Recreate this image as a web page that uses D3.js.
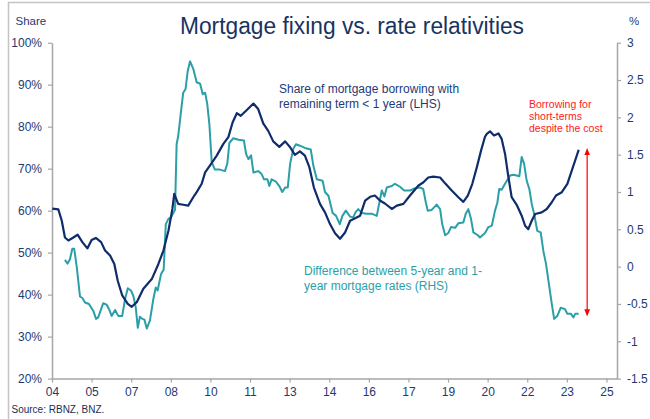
<!DOCTYPE html>
<html>
<head>
<meta charset="utf-8">
<script src="https://cdn.jsdelivr.net/npm/d3@7"></script>
<style>
  body { margin: 0; background: #fff; }
  svg { display: block; font-family: "Liberation Sans", Arial, sans-serif; }
</style>
</head>
<body>
<svg id="chart" width="650" height="419"></svg>
<script>
// share of mortgage borrowing with remaining term < 1 year (LHS, %)
const shareYears = [2004.01,2004.24,2004.37,2004.49,2004.62,2004.81,2004.97,2005.15,2005.34,2005.50,2005.66,2005.86,
  2006.01,2006.20,2006.36,2006.49,2006.66,2006.87,2007.02,2007.21,2007.46,2007.78,2008.03,2008.22,2008.41,2008.56,
  2008.63,2008.78,2008.97,2009.16,2009.39,2009.48,2009.67,2009.80,2009.98,2010.24,2010.49,2010.68,2010.84,2011.00,
  2011.15,2011.35,2011.63,2011.81,2012.00,2012.19,2012.38,2012.61,2012.83,2013.02,2013.20,2013.39,2013.58,2013.75,
  2013.92,2014.15,2014.34,2014.53,2014.72,2014.91,2015.10,2015.29,2015.48,2015.67,2015.86,2016.05,2016.23,2016.42,
  2016.61,2016.87,2017.06,2017.31,2017.56,2017.88,2018.06,2018.25,2018.44,2018.70,2018.89,2019.14,2019.39,2019.58,
  2019.75,2019.92,2020.09,2020.25,2020.40,2020.47,2020.59,2020.74,2020.91,2021.03,2021.16,2021.28,2021.41,2021.60,
  2021.79,2021.92,2022.04,2022.17,2022.30,2022.55,2022.74,2022.93,2023.09,2023.31,2023.52,2023.75,2023.95];
const shareValues = [60.5,60.3,57.6,53.6,52.9,53.6,54.3,52.5,51.0,53.0,53.5,52.5,
  50.5,49.3,47.3,43.3,39.8,37.8,37.1,38.2,41.4,43.7,47.3,50.5,55.2,60.4,
  64.0,61.6,61.4,61.2,63.6,64.4,66.4,69.1,70.7,73.1,75.9,77.5,81.0,83.2,
  82.6,83.8,85.5,84.2,80.8,79.0,76.5,75.2,76.5,75.1,73.3,74.1,73.1,70.3,
  65.5,61.6,59.6,56.8,54.6,53.3,54.8,57.6,58.2,58.8,62.4,63.3,63.6,62.4,
  61.7,60.4,61.2,61.6,63.6,66.0,66.7,67.9,68.1,67.9,66.5,64.8,63.2,62.1,
  63.6,66.4,70.3,74.3,77.6,78.3,78.9,77.9,78.4,77.1,73.5,68.3,63.2,61.4,
  58.8,56.4,55.6,57.6,59.2,59.6,60.4,62.0,63.6,64.4,66.4,70.7,74.5];

// difference between 5-year and 1-year mortgage rates (RHS, %)
const spreadYears = [2004.49,2004.59,2004.68,2004.77,2004.84,2004.94,2005.06,2005.15,2005.25,2005.40,2005.56,2005.67,
  2005.75,2005.86,2005.94,2006.07,2006.16,2006.26,2006.39,2006.51,2006.66,2006.77,2006.87,2006.99,2007.08,2007.17,
  2007.25,2007.33,2007.42,2007.50,2007.59,2007.71,2007.84,2007.93,2008.00,2008.13,2008.23,2008.31,2008.41,2008.51,
  2008.66,2008.72,2008.78,2008.89,2008.97,2009.06,2009.14,2009.23,2009.35,2009.48,2009.61,2009.71,2009.80,2009.88,
  2009.96,2010.05,2010.17,2010.36,2010.55,2010.64,2010.72,2010.87,2011.06,2011.27,2011.35,2011.44,2011.54,2011.63,
  2011.81,2011.94,2012.03,2012.16,2012.23,2012.32,2012.48,2012.61,2012.72,2012.83,2012.93,2013.02,2013.14,2013.24,
  2013.39,2013.58,2013.80,2013.90,2014.03,2014.25,2014.34,2014.47,2014.63,2014.76,2014.90,2015.00,2015.13,2015.29,
  2015.41,2015.50,2015.60,2015.73,2015.92,2016.11,2016.30,2016.39,2016.49,2016.59,2016.68,2016.87,2016.99,2017.18,
  2017.34,2017.56,2017.75,2017.94,2018.06,2018.16,2018.23,2018.38,2018.57,2018.70,2018.78,2018.89,2019.01,2019.11,
  2019.27,2019.39,2019.58,2019.67,2019.77,2019.87,2019.96,2020.13,2020.21,2020.40,2020.53,2020.66,2020.78,2020.87,
  2020.94,2021.03,2021.16,2021.35,2021.47,2021.60,2021.70,2021.79,2021.88,2021.98,2022.08,2022.17,2022.26,2022.38,
  2022.51,2022.61,2022.71,2022.80,2022.93,2023.02,2023.14,2023.27,2023.43,2023.52,2023.65,2023.75,2023.82,2023.95];
const spreadValues = [0.09,0.04,0.10,0.24,0.24,-0.01,-0.40,-0.42,-0.48,-0.50,-0.59,-0.70,
  -0.68,-0.57,-0.49,-0.51,-0.57,-0.66,-0.58,-0.66,-0.66,-0.43,-0.29,-0.32,-0.39,-0.54,
  -0.82,-0.67,-0.70,-0.71,-0.83,-0.72,-0.43,-0.28,-0.32,-0.10,-0.04,0.57,0.64,0.66,
  0.76,1.64,1.75,2.09,2.33,2.38,2.62,2.75,2.65,2.47,2.45,2.31,2.33,2.18,
  1.91,1.40,1.30,1.30,1.28,1.38,1.66,1.72,1.70,1.69,1.51,1.44,1.49,1.26,
  1.28,1.24,1.17,1.17,1.08,1.17,1.14,1.08,1.00,1.06,1.06,1.38,1.58,1.64,
  1.62,1.59,1.57,1.35,1.17,1.15,1.00,0.95,0.72,0.68,0.57,0.68,0.75,0.67,
  0.66,0.73,0.77,0.72,0.71,0.71,0.68,0.84,1.02,0.94,1.06,1.08,1.11,1.07,
  1.02,1.02,1.05,1.06,1.04,0.86,0.75,0.76,0.83,0.77,0.57,0.42,0.45,0.53,
  0.52,0.58,0.59,0.71,0.77,0.64,0.46,0.42,0.39,0.45,0.53,0.55,0.75,0.86,
  1.04,1.03,1.11,1.22,1.23,1.22,1.21,1.47,1.38,1.15,1.04,0.84,0.71,0.48,
  0.46,0.21,0.04,-0.18,-0.50,-0.70,-0.66,-0.55,-0.57,-0.63,-0.63,-0.68,-0.63,-0.63];

const leftTicks  = [20,30,40,50,60,70,80,90,100];
const rightTicks = [-1.5,-1,-0.5,0,0.5,1,1.5,2,2.5,3];
const xTicks     = d3.range(2004, 2025.01, 1.5);   // 04, 05, 07, 08 ... 25

// annotation arrow: "borrowing for short-terms despite the cost"
const arrowYear = 2024.27, arrowTop = 1.58, arrowBottom = -0.66;

const navy = "#0f2c6b", teal = "#2b9fa7", ink = "#1f3a70", grid = "#a6a6a6";

const svg = d3.select("#chart");
const x  = d3.scaleLinear().domain([2004, 2025.4]).range([52, 617]);
const yL = d3.scaleLinear().domain([20, 100]).range([378.6, 42.7]);
const yR = d3.scaleLinear().domain([-1.5, 3]).range([378.6, 42.7]);

// outer frame (top + left edge only visible)
svg.append("path").attr("d", "M8.5,419V2.5H650")
  .attr("fill", "none").attr("stroke", "#c4c4c4").attr("stroke-width", 1.5);

svg.append("text").attr("x", 352).attr("y", 34).attr("text-anchor", "middle")
  .attr("font-family", "'Liberation Sans Narrow', 'Liberation Sans', Arial, sans-serif")
  .attr("font-size", 23).attr("fill", "#17345f")
  .attr("textLength", 344).attr("lengthAdjust", "spacingAndGlyphs")
  .text("Mortgage fixing vs. rate relativities");

svg.append("text").attr("x", 15.5).attr("y", 25).attr("font-size", 11.5).attr("fill", ink).text("Share");
svg.append("text").attr("x", 634).attr("y", 25).attr("text-anchor", "middle").attr("font-size", 11.5).attr("fill", ink).text("%");

function styleAxis(g) {
  g.select(".domain").attr("stroke", grid).attr("stroke-width", 1.5);
  g.selectAll(".tick line").attr("stroke", grid).attr("stroke-width", 1.2);
  g.selectAll(".tick text").attr("fill", ink).attr("font-size", 12)
    .attr("font-family", "'Liberation Sans', Arial, sans-serif");
}

svg.append("g").attr("transform", "translate(52,0)")
  .call(d3.axisLeft(yL).tickValues(leftTicks).tickFormat(d => d + "%").tickSize(4).tickSizeOuter(0).tickPadding(6))
  .call(styleAxis);

svg.append("g").attr("transform", "translate(617,0)")
  .call(d3.axisRight(yR).tickValues(rightTicks).tickFormat(d => d).tickSize(4).tickSizeOuter(0).tickPadding(6))
  .call(styleAxis);

svg.append("g").attr("transform", "translate(0,378.6)")
  .call(d3.axisBottom(x).tickValues(xTicks).tickFormat(d => String(Math.floor(d) % 100).padStart(2, "0"))
    .tickSize(4).tickSizeOuter(0).tickPadding(5))
  .call(styleAxis);

const shareLine = d3.line().x((d, i) => x(shareYears[i])).y(d => yL(d));
const spreadLine = d3.line().x((d, i) => x(spreadYears[i])).y(d => yR(d));

svg.append("path").datum(spreadValues).attr("d", spreadLine)
  .attr("fill", "none").attr("stroke", teal).attr("stroke-width", 2).attr("stroke-linejoin", "round");
svg.append("path").datum(shareValues).attr("d", shareLine)
  .attr("fill", "none").attr("stroke", navy).attr("stroke-width", 2.2).attr("stroke-linejoin", "round");

// series labels
const navyLbl = svg.append("text").attr("font-size", 12).attr("fill", "#1e3a78");
navyLbl.append("tspan").attr("x", 279).attr("y", 93).text("Share of mortgage borrowing with");
navyLbl.append("tspan").attr("x", 279).attr("y", 108).text("remaining term < 1 year (LHS)");

const tealLbl = svg.append("text").attr("font-size", 12).attr("fill", teal);
tealLbl.append("tspan").attr("x", 304).attr("y", 275).text("Difference between 5-year and 1-");
tealLbl.append("tspan").attr("x", 304).attr("y", 290).text("year mortgage rates (RHS)");

const redLbl = svg.append("text").attr("font-size", 10.5).attr("fill", "#ff1a1a");
["Borrowing for", "short-terms", "despite the cost"].forEach((t, i) =>
  redLbl.append("tspan").attr("x", 529).attr("y", 108 + i * 12).text(t));

// double-headed arrow
const defs = svg.append("defs");
defs.append("marker").attr("id", "ah").attr("viewBox", "0 0 10 10").attr("refX", 5).attr("refY", 5)
  .attr("markerWidth", 6).attr("markerHeight", 6).attr("orient", "auto-start-reverse")
  .append("path").attr("d", "M0,1L10,5L0,9z").attr("fill", "#ff0000");
svg.append("line")
  .attr("x1", x(arrowYear)).attr("x2", x(arrowYear))
  .attr("y1", yR(arrowTop) + 3).attr("y2", yR(arrowBottom) - 3)
  .attr("stroke", "#ff0000").attr("stroke-width", 1.2)
  .attr("marker-start", "url(#ah)").attr("marker-end", "url(#ah)");

svg.append("text").attr("x", 11.5).attr("y", 413).attr("font-size", 10).attr("fill", "#1a2f55").text("Source: RBNZ, BNZ.");
</script>
</body>
</html>
